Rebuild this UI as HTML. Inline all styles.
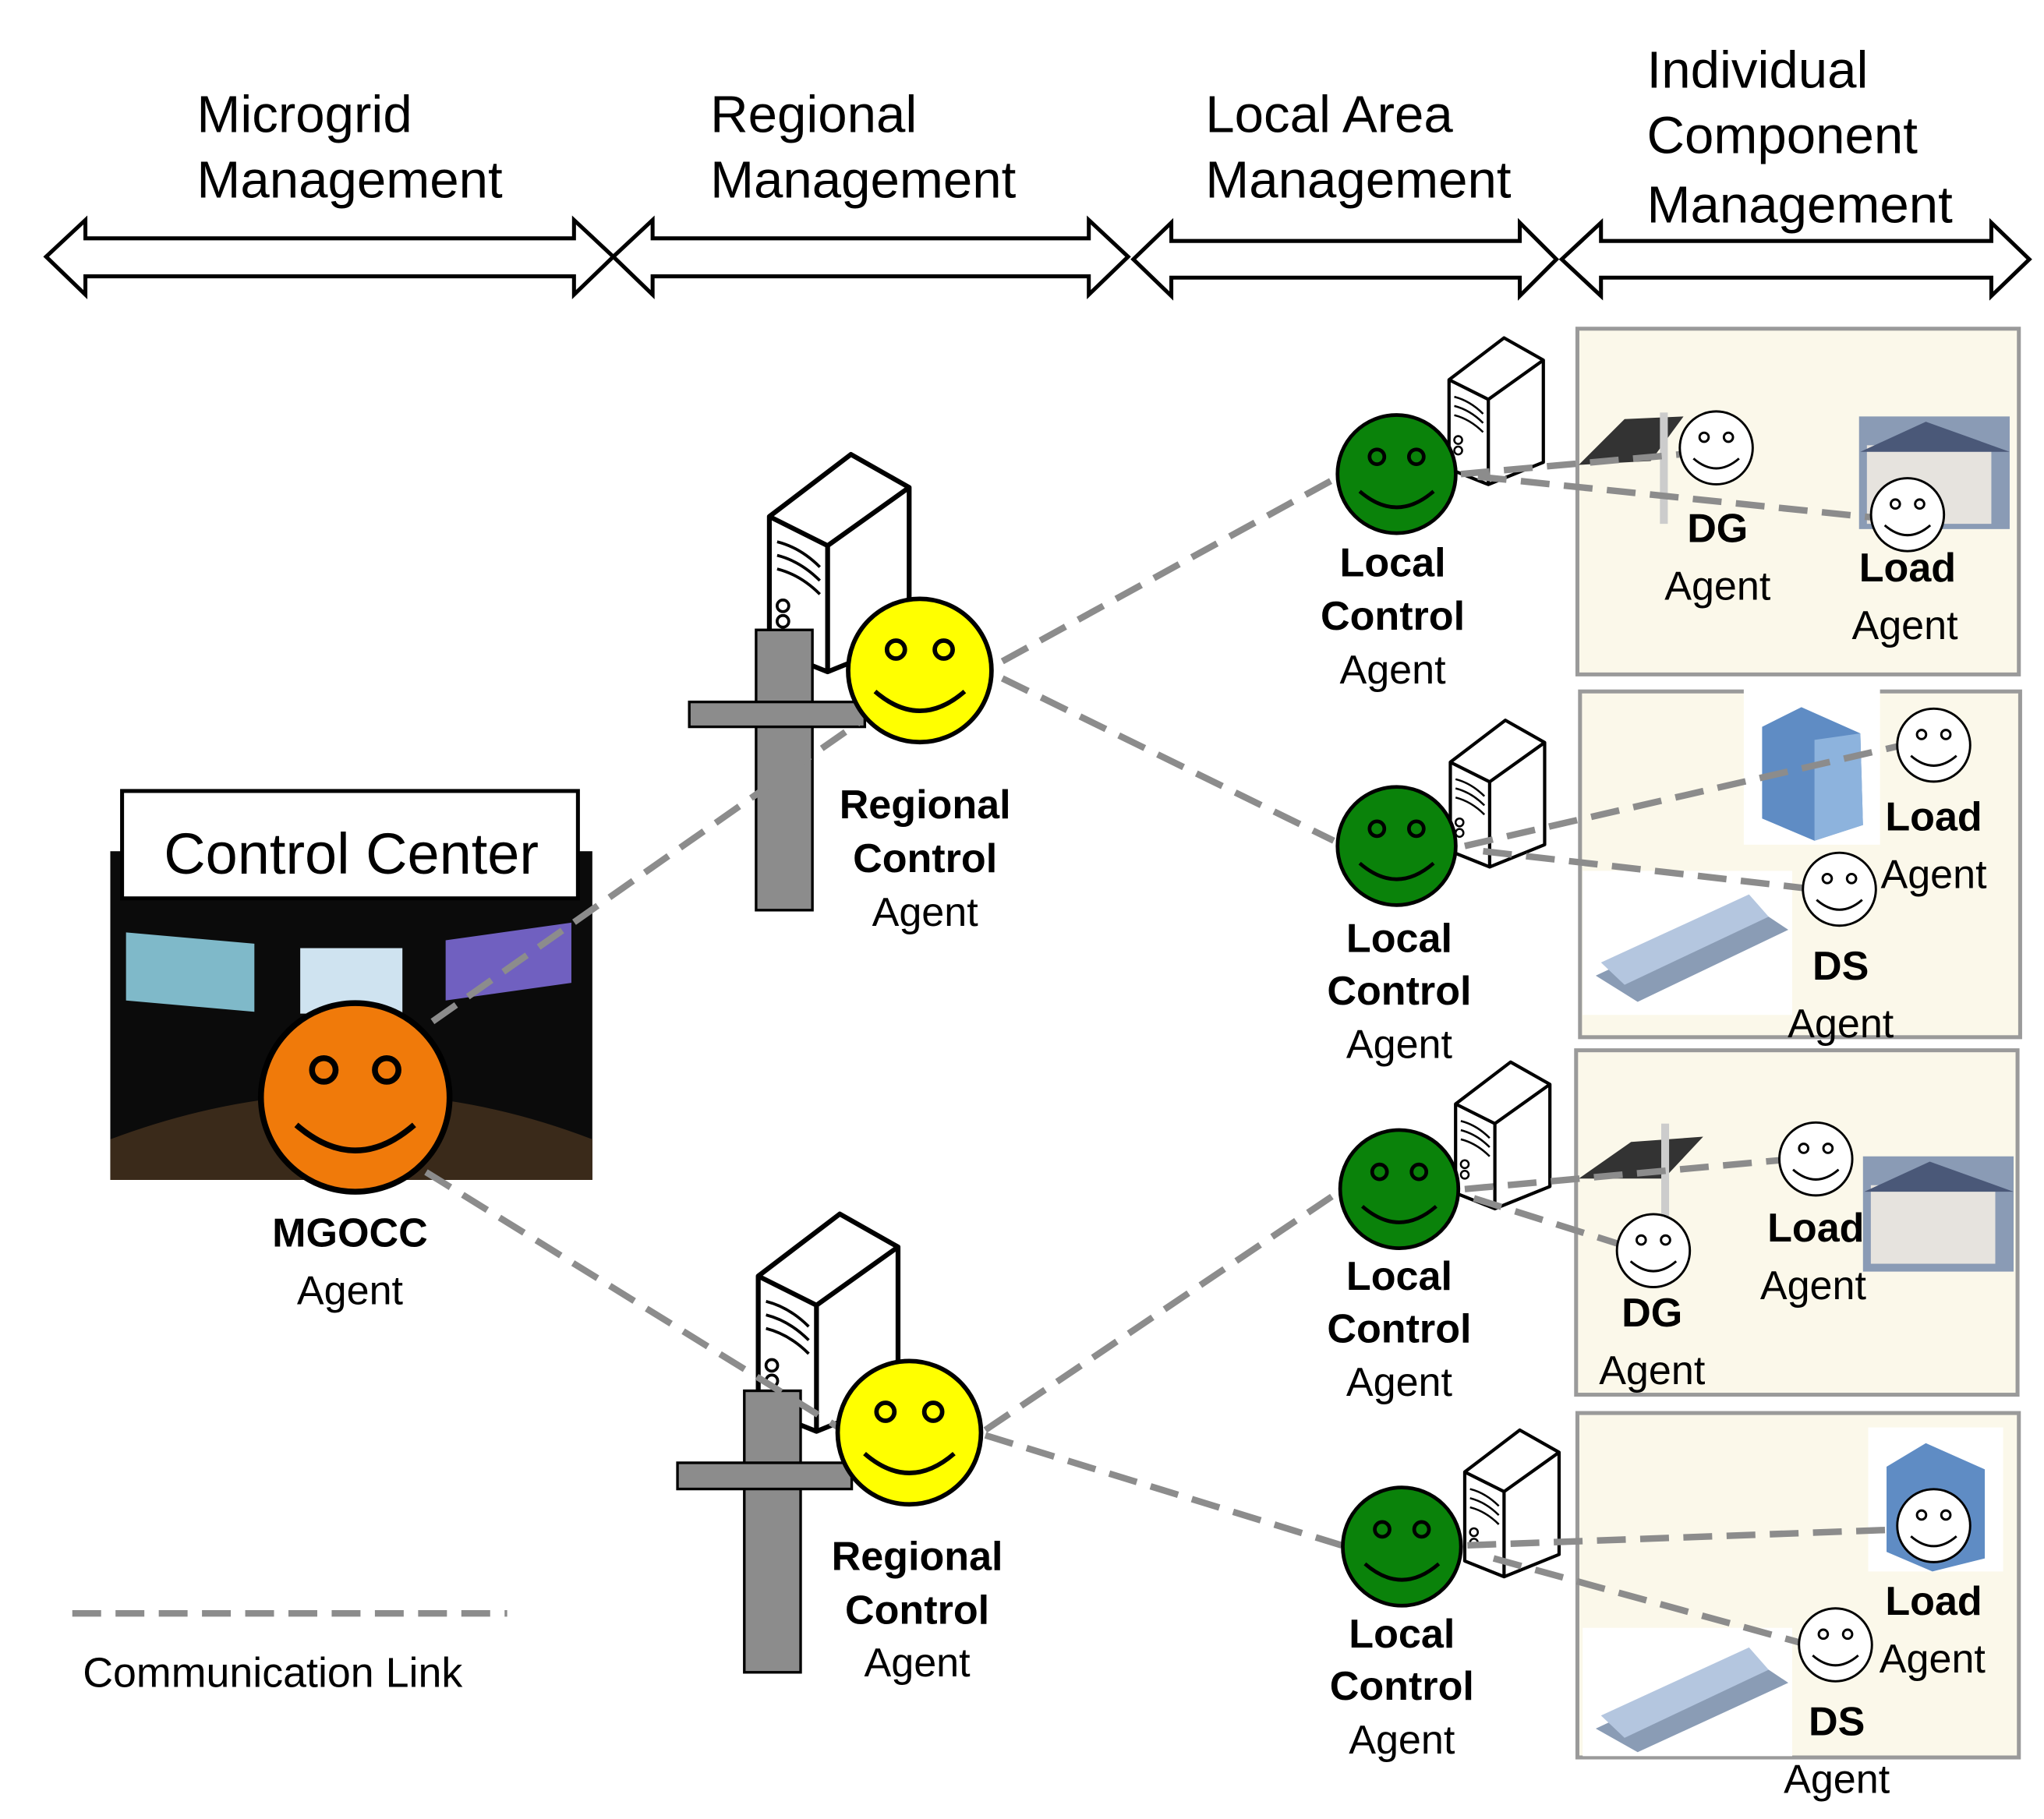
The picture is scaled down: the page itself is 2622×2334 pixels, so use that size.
<!DOCTYPE html>
<html><head><meta charset="utf-8"><style>
html,body{margin:0;padding:0;background:#fff}
svg{display:block}
text{font-family:"Liberation Sans",sans-serif}
</style></head><body>
<svg width="2622" height="2334" viewBox="0 0 1560 1389" xmlns="http://www.w3.org/2000/svg">
<defs>
<symbol id="srv" viewBox="0 0 72 112" overflow="visible">
<path d="M0,32 L42,0 L72,17 L72,95 L30,112 L0,100 Z" fill="#fff" stroke="#000" stroke-width="2.5" stroke-linejoin="round"/>
<path d="M0,32 L30,47 L72,17 M30,47 L30,112" fill="none" stroke="#000" stroke-width="2.5"/>
<path d="M4,45 Q16,48 26,58 M4,52 Q16,55 26,65 M4,59 Q16,62 26,72" fill="none" stroke="#000" stroke-width="1.5"/>
<circle cx="7" cy="78" r="3" fill="#fff" stroke="#000" stroke-width="1.5"/>
<circle cx="7" cy="86" r="3" fill="#fff" stroke="#000" stroke-width="1.5"/>
</symbol>
<symbol id="face" viewBox="-50 -50 100 100" overflow="visible">
<circle r="48" stroke="#000" stroke-width="3"/>
<circle cx="-16" cy="-14" r="6" fill="none" stroke="#000" stroke-width="3"/>
<circle cx="16" cy="-14" r="6" fill="none" stroke="#000" stroke-width="3"/>
<path d="M-30,14 Q0,40 30,14" fill="none" stroke="#000" stroke-width="3"/>
</symbol>
<g id="dblarrow"></g>
</defs>

<!-- headers -->
<g font-size="40" fill="#000">
<text x="150" y="101">Microgrid</text><text x="150" y="151">Management</text>
<text x="542" y="101">Regional</text><text x="542" y="151">Management</text>
<text x="920" y="101">Local Area</text><text x="920" y="151">Management</text>
<text x="1257" y="67">Individual</text><text x="1257" y="117">Component</text><text x="1257" y="170">Management</text>
</g>
<g fill="#fff" stroke="#000" stroke-width="3" stroke-linejoin="miter">
<path d="M35,196 L65,168 L65,182 L438,182 L438,168 L468,196 L438,225 L438,211 L65,211 L65,225 Z"/>
<path d="M468,196 L498,168 L498,182 L831,182 L831,168 L861,196 L831,225 L831,211 L498,211 L498,225 Z"/>
<path d="M865,198 L894,170 L894,184 L1160,184 L1160,170 L1188,198 L1160,226 L1160,212 L894,212 L894,226 Z"/>
<path d="M1192,198 L1222,170 L1222,184 L1520,184 L1520,170 L1549,198 L1520,226 L1520,212 L1222,212 L1222,226 Z"/>
</g>

<!-- component boxes -->
<g fill="#fbf8ea" stroke="#9a9a9a" stroke-width="3">
<rect x="1204" y="251" width="337" height="264"/>
<rect x="1206" y="528" width="336" height="264"/>
<rect x="1203" y="802" width="337" height="263"/>
<rect x="1204" y="1079" width="337" height="263"/>
</g>
<!-- images inside boxes (approximations) -->
<g>
<rect x="1419" y="318" width="115" height="86" fill="#8a9bb5"/><rect x="1425" y="340" width="95" height="60" fill="#e6e3de"/><path d="M1420,345 L1470,322 L1534,345 Z" fill="#4a5878"/>
<path d="M1205,355 L1240,320 L1285,318 L1260,352 Z" fill="#333"/><rect x="1267" y="315" width="6" height="85" fill="#ccc"/>
<rect x="1331" y="525" width="104" height="120" fill="#fff"/><path d="M1345,555 L1375,540 L1420,560 L1422,630 L1385,642 L1345,625 Z" fill="#5f8cc4"/><path d="M1385,565 L1420,560 L1422,630 L1385,642 Z" fill="#8db3dd"/>
<rect x="1208" y="665" width="160" height="110" fill="#fff"/><path d="M1218,745 L1335,690 L1365,710 L1250,765 Z" fill="#8a9cb5"/><path d="M1222,735 L1335,683 L1350,700 L1240,752 Z" fill="#b4c6df"/>
<path d="M1205,900 L1245,872 L1300,868 L1270,900 Z" fill="#333"/><rect x="1268" y="858" width="6" height="85" fill="#ccc"/>
<rect x="1422" y="883" width="115" height="88" fill="#8a9bb5"/><rect x="1428" y="905" width="95" height="60" fill="#e6e3de"/><path d="M1423,910 L1473,887 L1537,910 Z" fill="#4a5878"/>
<rect x="1426" y="1090" width="103" height="110" fill="#fff"/><path d="M1440,1120 L1470,1102 L1515,1122 L1515,1190 L1475,1200 L1440,1185 Z" fill="#5f8cc4"/>
<rect x="1208" y="1243" width="160" height="98" fill="#fff"/><path d="M1218,1320 L1335,1265 L1365,1285 L1250,1338 Z" fill="#8a9cb5"/><path d="M1222,1310 L1335,1258 L1350,1275 L1240,1327 Z" fill="#b4c6df"/>
</g>

<!-- control center -->
<rect x="84" y="650" width="368" height="251" fill="#0b0b0b"/>
<path d="M84,870 Q270,800 452,870 L452,901 L84,901 Z" fill="#3a2a1a"/>
<rect x="96" y="712" width="98" height="52" fill="#7fb9c9" transform="skewY(5)" transform-origin="96 712"/>
<rect x="229" y="724" width="78" height="50" fill="#cfe3f0"/>
<rect x="340" y="718" width="96" height="46" fill="#7060c0" transform="skewY(-8)" transform-origin="340 718"/>
<rect x="93" y="604" width="348" height="82" fill="#fff" stroke="#000" stroke-width="3"/>
<text x="268" y="667" font-size="44" text-anchor="middle">Control Center</text>

<!-- regional structures -->
<use href="#srv" x="587" y="347" width="107" height="166"/>
<rect x="577" y="481" width="43" height="214" fill="#8c8c8c" stroke="#000" stroke-width="2"/>
<rect x="526" y="536" width="134" height="19" fill="#8c8c8c" stroke="#000" stroke-width="2"/>
<use href="#srv" x="578" y="927" width="108" height="166"/>
<rect x="568" y="1062" width="43" height="215" fill="#8c8c8c" stroke="#000" stroke-width="2"/>
<rect x="517" y="1117" width="133" height="20" fill="#8c8c8c" stroke="#000" stroke-width="2"/>

<!-- local servers -->
<use href="#srv" x="1106" y="258" width="72" height="112"/>
<use href="#srv" x="1107" y="550" width="72" height="112"/>
<use href="#srv" x="1111" y="811" width="72" height="112"/>
<use href="#srv" x="1118" y="1092" width="72" height="112"/>

<!-- dashed links -->
<g stroke="#8c8c8c" stroke-width="5" stroke-dasharray="22 11" fill="none">
<path d="M330,780 L655,552"/>
<path d="M325,895 L640,1090"/>
<path d="M765,505 L1018,366"/>
<path d="M765,518 L1018,642"/>
<path d="M752,1092 L1022,910"/>
<path d="M752,1096 L1024,1180"/>
<path d="M1115,362 L1282,347"/>
<path d="M1128,364 L1428,395"/>
<path d="M1118,646 L1448,570"/>
<path d="M1132,650 L1376,678"/>
<path d="M1118,908 L1358,886"/>
<path d="M1125,915 L1236,950"/>
<path d="M1120,1180 L1448,1168"/>
<path d="M1140,1190 L1373,1254"/>
<path d="M55,1232 L387,1232"/>
</g>

<!-- faces -->
<use href="#face" x="196" y="763" width="150" height="150" fill="#f07a0a"/>
<use href="#face" x="645" y="455" width="114" height="114" fill="#ffff00"/>
<use href="#face" x="637" y="1037" width="114" height="114" fill="#ffff00"/>
<use href="#face" x="1019" y="315" width="94" height="94" fill="#0a820a"/>
<use href="#face" x="1019" y="599" width="94" height="94" fill="#0a820a"/>
<use href="#face" x="1021" y="861" width="94" height="94" fill="#0a820a"/>
<use href="#face" x="1023" y="1134" width="94" height="94" fill="#0a820a"/>
<use href="#face" x="1281" y="313" width="58" height="58" fill="#fff"/>
<use href="#face" x="1427" y="364" width="58" height="58" fill="#fff"/>
<use href="#face" x="1447" y="540" width="58" height="58" fill="#fff"/>
<use href="#face" x="1375" y="650" width="58" height="58" fill="#fff"/>
<use href="#face" x="1357" y="856" width="58" height="58" fill="#fff"/>
<use href="#face" x="1233" y="926" width="58" height="58" fill="#fff"/>
<use href="#face" x="1447" y="1136" width="58" height="58" fill="#fff"/>
<use href="#face" x="1372" y="1227" width="58" height="58" fill="#fff"/>

<!-- labels -->
<g font-size="31" text-anchor="middle" fill="#000">
<text x="267" y="952" font-weight="bold">MGOCC</text><text x="267" y="996">Agent</text>
<text x="706" y="625" font-weight="bold">Regional</text><text x="706" y="666" font-weight="bold">Control</text><text x="706" y="707">Agent</text>
<text x="700" y="1199" font-weight="bold">Regional</text><text x="700" y="1240" font-weight="bold">Control</text><text x="700" y="1280">Agent</text>
<text x="1063" y="440" font-weight="bold">Local</text><text x="1063" y="481" font-weight="bold">Control</text><text x="1063" y="522">Agent</text>
<text x="1068" y="727" font-weight="bold">Local</text><text x="1068" y="767" font-weight="bold">Control</text><text x="1068" y="808">Agent</text>
<text x="1068" y="985" font-weight="bold">Local</text><text x="1068" y="1025" font-weight="bold">Control</text><text x="1068" y="1066">Agent</text>
<text x="1070" y="1258" font-weight="bold">Local</text><text x="1070" y="1298" font-weight="bold">Control</text><text x="1070" y="1339">Agent</text>
<text x="1311" y="414" font-weight="bold">DG</text><text x="1311" y="458">Agent</text>
<text x="1456" y="444" font-weight="bold">Load</text><text x="1454" y="488">Agent</text>
<text x="1476" y="634" font-weight="bold">Load</text><text x="1476" y="678">Agent</text>
<text x="1405" y="748" font-weight="bold">DS</text><text x="1405" y="792">Agent</text>
<text x="1386" y="948" font-weight="bold">Load</text><text x="1384" y="992">Agent</text>
<text x="1261" y="1013" font-weight="bold">DG</text><text x="1261" y="1057">Agent</text>
<text x="1476" y="1233" font-weight="bold">Load</text><text x="1475" y="1277">Agent</text>
<text x="1402" y="1325" font-weight="bold">DS</text><text x="1402" y="1369">Agent</text>
</g>
<text x="63" y="1288" font-size="32">Communication Link</text>
</svg>
</body></html>
